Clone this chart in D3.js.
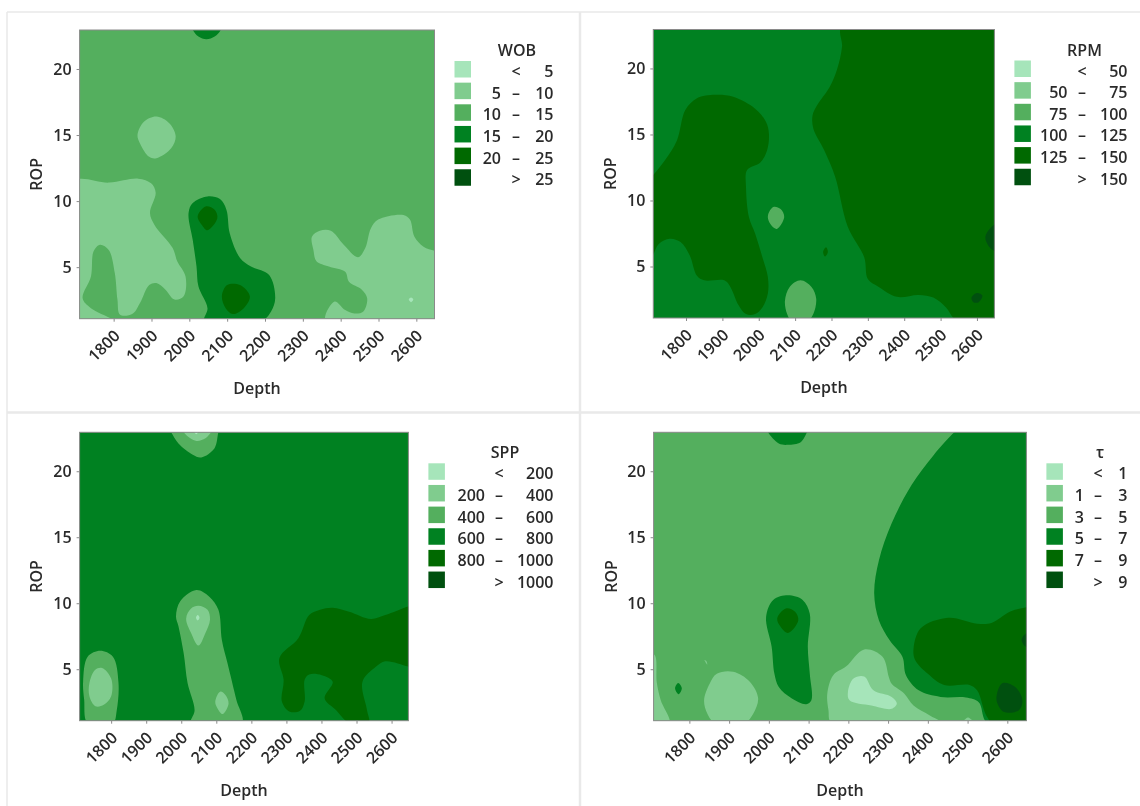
<!DOCTYPE html>
<html>
<head>
<meta charset="utf-8">
<script src="https://cdn.jsdelivr.net/npm/d3@7"></script>
<style>
    body { margin: 0; background: #fff; }
    svg { display: block; filter: blur(0.4px); }
    text { font-family: "Open Sans", "Noto Sans", sans-serif; fill: #2a2a2a; font-weight: 600; }
    .axis text { font-size: 16px; }
    .axis-title { font-size: 16px; }
    .legend text { font-size: 16px; }
    .axis path, .axis line { stroke: #8a8a8a; }
</style>
</head>
<body>
<svg id="chart"></svg>
<script>
// Shared axes
const depthTicks = [1800, 1900, 2000, 2100, 2200, 2300, 2400, 2500, 2600];
const ropTicks = [5, 10, 15, 20];
const depthRange = [1710, 2648];
const ropRange = [1.1, 22.95];
const levelColors = ['#a6e5ba', '#80cc8e', '#54af5e', '#008121', '#006900', '#00500f'];

// Legend class breaks
const wobBreaks = [5, 10, 15, 20, 25];
const rpmBreaks = [50, 75, 100, 125, 150];
const sppBreaks = [200, 400, 600, 800, 1000];
const tauBreaks = [1, 3, 5, 7, 9];

// Contour regions: [level, [[depth, rop], ...]], painted in order.
// Vertices past the axis limits close a region along the frame.
const wobRegions = [
    [2, [[1690, 0], [2670, 0], [2670, 24], [1690, 24]]],
    [1, [[1690, 11.45], [1788, 11.4], [1865, 11.7], [1899, 11.35], [1911, 10.65], [1896, 9.1], [1908, 8.2], [1956, 6.45], [1968, 5.45], [1990, 4.3], [1985, 2.8], [1961, 2.55], [1937, 3.3], [1913, 3.8], [1894, 3.65], [1870, 2.3], [1851, 1.5], [1817, 1.4], [1810, 2.55], [1803, 4.55], [1787, 6.3], [1764, 6.7], [1747, 6.2], [1740, 4.3], [1718, 2.65], [1740, 1.9], [1803, 0.9], [1690, 0.9]]],
    [1, [[1863, 15], [1880, 16], [1913, 16.4], [1947, 15.9], [1964, 14.9], [1952, 14], [1913, 13.25], [1894, 13.35], [1870, 14.35]]],
    [1, [[2324, 7.3], [2345, 7.75], [2374, 7.75], [2408, 6.7], [2446, 5.75], [2465, 6.45], [2480, 7.95], [2499, 8.6], [2566, 8.95], [2583, 8.6], [2595, 7.3], [2619, 6.55], [2648, 6.25], [2670, 6.1], [2670, 0.9], [2360, 0.9], [2384, 2.4], [2412, 1.75], [2436, 1.5], [2460, 1.65], [2470, 2.65], [2456, 3.3], [2422, 3.9], [2412, 4.65], [2369, 5.05], [2336, 5.45], [2328, 6.3]]],
    [0, [[2580, 2.55], [2586, 2.7], [2592, 2.55], [2586, 2.35]]],
    [3, [[1998, 9.1], [2009, 9.85], [2048, 10.35], [2081, 10.15], [2098, 9.35], [2107, 7.55], [2134, 5.7], [2163, 5.05], [2211, 4.4], [2227, 2.65], [2216, 1.65], [2190, 0.9], [2040, 0.9], [2048, 1.9], [2024, 3.55], [2019, 5.05], [2009, 7.05]]],
    [4, [[2022, 8.85], [2043, 9.6], [2067, 9.35], [2074, 8.7], [2048, 7.8], [2033, 8.2]]],
    [4, [[2086, 2.8], [2100, 3.65], [2134, 3.65], [2160, 2.8], [2144, 1.9], [2115, 1.45], [2096, 1.9]]],
    [3, [[2005, 23.2], [2009, 22.95], [2024, 22.45], [2045, 22.25], [2067, 22.45], [2083, 22.95], [2085, 23.2]]]
];

const rpmRegions = [
    [3, [[1690, 0], [2670, 0], [2670, 24], [1690, 24]]],
    [4, [[2229, 23.2], [2229, 21.65], [2215, 19.9], [2195, 18.6], [2160, 17.2], [2148, 16.45], [2150, 15.45], [2180, 13.8], [2210, 11.8], [2245, 8], [2290, 5.7], [2300, 4.05], [2330, 3.45], [2380, 2.7], [2440, 2.85], [2480, 2.65], [2515, 1.9], [2545, 0.9], [2670, 0.9], [2670, 23.2]]],
    [4, [[1690, 11.3], [1709, 11.9], [1742, 13.05], [1775, 14.55], [1798, 16.85], [1830, 17.75], [1880, 18], [1930, 17.85], [1990, 16.95], [2020, 15.95], [2028, 15.05], [2023, 13.8], [2005, 12.9], [1968, 12.3], [1965, 11], [1973, 8.75], [1990, 7.5], [2010, 5.7], [2025, 4.2], [2025, 2.95], [2010, 1.9], [1990, 1.4], [1965, 1.4], [1945, 2.05], [1920, 3.55], [1905, 3.95], [1850, 3.95], [1830, 4.3], [1810, 5.85], [1785, 6.85], [1755, 7.1], [1725, 6.7], [1709, 5.85], [1690, 5]]],
    [2, [[2025, 8.8], [2040, 9.5], [2060, 9.35], [2070, 8.75], [2050, 7.85], [2035, 8.1]]],
    [2, [[2072, 2.4], [2085, 3.45], [2115, 3.95], [2145, 3.45], [2158, 2.55], [2150, 1.4], [2135, 0.9], [2090, 0.9], [2078, 1.4]]],
    [4, [[2177, 6.1], [2185, 6.45], [2190, 6.1], [2182, 5.75]]],
    [5, [[2623, 7.2], [2640, 8], [2660, 8.3], [2660, 6.2], [2640, 6.3]]],
    [5, [[2585, 2.65], [2600, 3], [2615, 2.8], [2605, 2.3], [2590, 2.3]]]
];

const sppRegions = [
    [3, [[1690, 0], [2670, 0], [2670, 24], [1690, 24]]],
    [2, [[1965, 23.2], [1971, 22.95], [1992, 22.1], [2033, 21.25], [2057, 21.05], [2095, 21.75], [2106, 22.95], [2110, 23.2]]],
    [1, [[2005, 23.2], [2012, 22.8], [2043, 22.3], [2069, 22.5], [2085, 22.95], [2090, 23.2]]],
    [0, [[2035, 23.1], [2043, 22.8], [2050, 23.1]]],
    [2, [[1985, 9], [1997, 10.15], [2043, 11], [2080, 10.5], [2106, 9.5], [2116, 7.2], [2132, 5.45], [2157, 2.7], [2173, 0.9], [2028, 0.9], [2038, 1.9], [2018, 3.95], [2007, 6.2], [1992, 8.25]]],
    [1, [[2014, 8.85], [2028, 9.6], [2049, 9.8], [2075, 9.5], [2082, 8.75], [2069, 7.75], [2049, 6.8], [2028, 7.75]]],
    [0, [[2042, 8.9], [2047, 9.1], [2052, 8.9], [2047, 8.7]]],
    [1, [[2097, 2.55], [2111, 3.3], [2126, 3.05], [2135, 2.4], [2118, 1.6], [2103, 2.05]]],
    [2, [[1720, 4.05], [1733, 5.95], [1769, 6.4], [1805, 5.95], [1821, 3.95], [1816, 1.9], [1805, 0.9], [1733, 0.9], [1723, 2.7]]],
    [1, [[1738, 3.95], [1754, 4.95], [1774, 5.1], [1800, 4.3], [1800, 2.95], [1779, 2.3], [1755, 2.2], [1738, 2.95]]],
    [4, [[2280, 5.85], [2334, 7.35], [2365, 9.1], [2396, 9.5], [2432, 9.65], [2479, 9.35], [2541, 8.8], [2582, 9.1], [2647, 9.75], [2670, 9.95], [2670, 5], [2647, 5.2], [2582, 5.6], [2556, 5.2], [2517, 4.05], [2530, 1.9], [2535, 0.9], [2480, 0.9], [2442, 1.9], [2409, 2.8], [2432, 4.05], [2401, 4.55], [2365, 4.6], [2352, 4.2], [2352, 2.55], [2339, 1.85], [2308, 1.8], [2287, 2.55], [2292, 4.2]]]
];

const tauRegions = [
    [2, [[1690, 0], [2670, 0], [2670, 24], [1690, 24]]],
    [3, [[2481, 23.2], [2467, 22.95], [2414, 21.2], [2359, 18.95], [2309, 16.05], [2277, 13.25], [2265, 10.75], [2277, 8.7], [2304, 7.2], [2336, 5.95], [2345, 4.55], [2377, 3.4], [2432, 2.9], [2496, 2.85], [2528, 2.5], [2550, 0.9], [2670, 0.9], [2670, 23.2]]],
    [4, [[2364, 6.55], [2382, 8.1], [2451, 8.9], [2524, 8.45], [2560, 8.5], [2606, 9.35], [2647, 9.7], [2670, 9.85], [2670, 0.9], [2565, 0.9], [2547, 1.5], [2524, 3.4], [2505, 3.8], [2441, 3.8], [2400, 4.65], [2368, 5.7]]],
    [5, [[2574, 3.15], [2588, 3.95], [2620, 3.65], [2638, 2.65], [2629, 1.9], [2592, 1.75], [2574, 2.5]]],
    [5, [[2636, 7.2], [2647, 7.7], [2660, 7.7], [2660, 6.7], [2647, 6.7]]],
    [3, [[1993, 8.95], [2011, 10.25], [2048, 10.6], [2085, 10.25], [2103, 9.2], [2098, 6.7], [2103, 4.65], [2107, 2.65], [2094, 2.35], [2057, 2.8], [2025, 3.65], [2014, 4.65], [2007, 6.7]]],
    [4, [[2021, 8.85], [2043, 9.6], [2066, 9.35], [2074, 8.7], [2048, 7.75], [2030, 8.2]]],
    [3, [[1995, 23.2], [1998, 22.95], [2025, 22.1], [2048, 22], [2080, 22.2], [2096, 22.95], [2100, 23.2]]],
    [3, [[1764, 3.55], [1772, 3.95], [1781, 3.55], [1773, 3.1]]],
    [1, [[1838, 5.7], [1843, 5.6], [1845, 5.35]]],
    [1, [[1690, 6.1], [1712, 6.1], [1718, 4], [1728, 2.65], [1750, 0.9], [1690, 0.9]]],
    [1, [[1837, 2.65], [1851, 3.9], [1869, 4.65], [1910, 4.8], [1952, 4.05], [1973, 2.8], [1961, 1.65], [1938, 0.9], [1865, 0.9], [1845, 1.65]]],
    [1, [[2147, 3.15], [2162, 4.55], [2194, 5.2], [2240, 6.5], [2286, 5.95], [2302, 4.4], [2309, 3.9], [2341, 3.15], [2364, 2.25], [2405, 1.5], [2437, 0.9], [2158, 0.9], [2150, 1.9]]],
    [0, [[2199, 3.3], [2213, 4.3], [2240, 4.45], [2263, 3.4], [2309, 2.9], [2322, 2.4], [2309, 2], [2258, 2.25], [2203, 2.65]]],
    [1, [[2487, 0.9], [2501, 1.35], [2516, 0.9]]]
];

class ContourPlot {

    /**
     * Class constructor with basic panel configuration
     * @param {Object}
     * @param {Array}
     */
    constructor(_config, _regions) {
        this.config = _config;
        this.regions = _regions;
        this.initVis();
    }

    /**
     * Initialize scales, axes and the clipped contour layer
     */
    initVis() {
        let vis = this;
        const c = vis.config;

        vis.width = c.right - c.left;
        vis.height = c.bottom - c.top;

        vis.xScale = d3.scaleLinear().domain(depthRange).range([0, vis.width]);
        vis.yScale = d3.scaleLinear().domain(ropRange).range([vis.height, 0]);

        vis.chart = d3.select('#chart').append('g')
            .attr('transform', `translate(${c.left},${c.top})`);

        vis.chart.append('clipPath')
            .attr('id', `clip-${c.name}`)
            .append('rect')
            .attr('width', vis.width)
            .attr('height', vis.height);

        vis.line = d3.line()
            .x(d => vis.xScale(d[0]))
            .y(d => vis.yScale(d[1]))
            .curve(d3.curveCatmullRomClosed.alpha(0.5));

        vis.renderVis();
    }

    renderVis() {
        let vis = this;
        const c = vis.config;

        vis.chart.append('g')
            .attr('clip-path', `url(#clip-${c.name})`)
            .selectAll('path')
            .data(vis.regions)
            .join('path')
            .attr('d', d => vis.line(d[1]))
            .attr('fill', d => levelColors[d[0]]);

        vis.chart.append('rect')
            .attr('width', vis.width)
            .attr('height', vis.height)
            .attr('fill', 'none')
            .attr('stroke', '#8a8a8a');

        // Update the axes
        const xAxisG = vis.chart.append('g')
            .attr('class', 'axis x-axis')
            .attr('transform', `translate(0,${vis.height})`)
            .call(d3.axisBottom(vis.xScale).tickValues(depthTicks).tickFormat(d3.format('d')).tickSize(3).tickSizeOuter(0));
        xAxisG.select('.domain').remove();
        xAxisG.selectAll('text')
            .attr('text-anchor', 'end')
            .attr('y', 0)
            .attr('dx', -8)
            .attr('dy', 17.5)
            .attr('transform', 'rotate(-45)');

        const yAxisG = vis.chart.append('g')
            .attr('class', 'axis y-axis')
            .call(d3.axisLeft(vis.yScale).tickValues(ropTicks).tickSize(3).tickPadding(5).tickSizeOuter(0));
        yAxisG.select('.domain').remove();

        vis.chart.append('text')
            .attr('class', 'axis-title')
            .attr('text-anchor', 'middle')
            .attr('x', vis.width / 2)
            .attr('y', vis.height + 75)
            .text('Depth');

        vis.chart.append('text')
            .attr('class', 'axis-title')
            .attr('text-anchor', 'middle')
            .attr('transform', `translate(${c.ropX - c.left},${vis.height / 2}) rotate(-90)`)
            .text('ROP');

        vis.renderLegend();
    }

    renderLegend() {
        const c = this.config;
        const l = c.legend;
        const b = c.breaks;
        const rows = levelColors.map((color, i) => ({
            color: color,
            low: i === 0 || i === b.length ? '' : b[i - 1],
            mid: i === 0 ? '<' : (i === b.length ? '>' : '\u2013'),
            high: i === b.length ? b[i - 1] : b[i]
        }));

        const legend = d3.select('#chart').append('g').attr('class', 'legend');

        legend.append('text')
            .attr('x', l.titleX)
            .attr('y', c.top + 26)
            .attr('text-anchor', 'middle')
            .text(c.title);

        const row = legend.selectAll('.row')
            .data(rows)
            .join('g')
            .attr('class', 'row')
            .attr('transform', (d, i) => `translate(0,${c.top + 31 + i * 21.65})`);

        row.append('rect')
            .attr('x', l.swatchX)
            .attr('width', 16.5)
            .attr('height', 16.5)
            .attr('fill', d => d.color);

        row.append('text').attr('x', l.lowX).attr('y', 16).attr('text-anchor', 'end').text(d => d.low);
        row.append('text').attr('x', l.midX).attr('y', 16).attr('text-anchor', 'middle').text(d => d.mid);
        row.append('text').attr('x', l.highX).attr('y', 16).attr('text-anchor', 'end').text(d => d.high);
    }
}

const svg = d3.select('#chart').attr('width', 1140).attr('height', 806);

// Panel separators
const separators = [[7, 12, 1140, 12], [7, 412.5, 1140, 412.5], [7, 12, 7, 806], [580, 12, 580, 806]];
svg.selectAll('.sep')
    .data(separators)
    .join('line')
    .attr('class', 'sep')
    .attr('x1', d => d[0]).attr('y1', d => d[1])
    .attr('x2', d => d[2]).attr('y2', d => d[3])
    .attr('stroke', '#e9e9e9')
    .attr('stroke-width', (d, i) => i === 1 || i === 3 ? 2.5 : 1.5);

new ContourPlot({
    name: 'wob', title: 'WOB', breaks: wobBreaks,
    left: 79.6, right: 434.5, top: 30, bottom: 318.7, ropX: 42,
    legend: {swatchX: 454.5, titleX: 517, lowX: 501, midX: 516, highX: 553.5}
}, wobRegions);

new ContourPlot({
    name: 'rpm', title: 'RPM', breaks: rpmBreaks,
    left: 653.3, right: 994.4, top: 29.5, bottom: 318, ropX: 616,
    legend: {swatchX: 1014.4, titleX: 1084.5, lowX: 1067.5, midX: 1082, highX: 1127.5}
}, rpmRegions);

new ContourPlot({
    name: 'spp', title: 'SPP', breaks: sppBreaks,
    left: 79.6, right: 408.4, top: 432.3, bottom: 720.7, ropX: 42,
    legend: {swatchX: 428.4, titleX: 505, lowX: 485, midX: 499, highX: 553.5}
}, sppRegions);

new ContourPlot({
    name: 'tau', title: '\u03c4', breaks: tauBreaks,
    left: 653.6, right: 1026.4, top: 432.3, bottom: 720.7, ropX: 617,
    legend: {swatchX: 1046.4, titleX: 1100, lowX: 1083.8, midX: 1098, highX: 1127.5}
}, tauRegions);
</script>
</body>
</html>
